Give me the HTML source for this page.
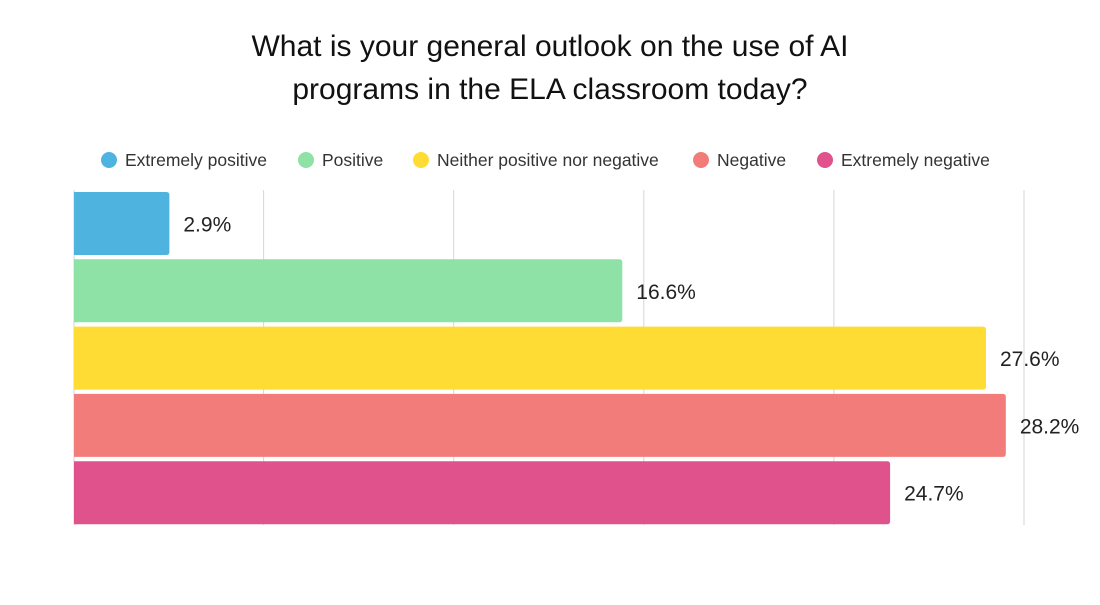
<!DOCTYPE html>
<html><head><meta charset="utf-8">
<style>
html,body{margin:0;padding:0;background:#fff;}
body{width:1100px;height:600px;overflow:hidden;font-family:"Liberation Sans",sans-serif;}
</style></head>
<body>
<svg id="chart" width="1100" height="600" xmlns="http://www.w3.org/2000/svg">
<text x="550" y="56" text-anchor="middle" font-size="30" fill="#111">What is your general outlook on the use of AI</text>
<text x="550" y="99" text-anchor="middle" font-size="30" fill="#111">programs in the ELA classroom today?</text>
<g id="legend"></g>
<g id="grid"></g>
<g id="bars"></g>
</svg>
<script>
const categories = ["Extremely positive","Positive","Neither positive nor negative","Negative","Extremely negative"];
const values = [2.9,16.6,27.6,28.2,24.7];
const valueLabels = ["2.9%","16.6%","27.6%","28.2%","24.7%"];
const colors = ["#4fb3e0","#8ee2a6","#fedc33","#f27c7a","#df528c"];
const gridTicks = [5.75,11.5,17.25,23,28.75];

const NS="http://www.w3.org/2000/svg";
const x0=73.5, xMax=28.75, xW=950.5;
const xScale=v=>x0+v/xMax*xW;
const barTop=192, barStep=67.3, barH=63;
const yScale=i=>barTop+i*barStep;
function mk(tag,attrs,parent){const e=document.createElementNS(NS,tag);for(const k in attrs)e.setAttribute(k,attrs[k]);parent.appendChild(e);return e;}

const grid=document.getElementById('grid');
gridTicks.forEach((t,i)=>{
  const l=mk('line',{x1:xScale(t),x2:xScale(t),y1:190,y2:525,stroke:'#d6d6d6','stroke-width':1},grid);
  
  
});
const ax=mk('line',{x1:74,x2:74,y1:190,y2:525,stroke:'#d6d6d6','stroke-width':1},grid);



const bars=document.getElementById('bars');
values.forEach((v,i)=>{
  const y=yScale(i), x1=xScale(v);
  const r=mk('path',{d:`M74 ${y} H${x1-3} Q${x1} ${y} ${x1} ${y+3} V${y+barH-3} Q${x1} ${y+barH} ${x1-3} ${y+barH} H74 Z`,fill:colors[i]},bars);
  
  
  const t=mk('text',{x:x1+14,y:y+barH/2+8,'font-size':21,fill:'#222'},bars);
  t.textContent=valueLabels[i];
  
  
});

const legend=document.getElementById('legend');
const legX=[109,306,421,701,825];
categories.forEach((c,i)=>{
  const g=mk('g',{},legend);
  
  
  mk('circle',{cx:legX[i],cy:160,r:8,fill:colors[i]},g);
  const t=mk('text',{x:legX[i]+16,y:166,'font-size':17.5,fill:'#333'},g);
  t.textContent=c;
});
</script>
</body></html>
